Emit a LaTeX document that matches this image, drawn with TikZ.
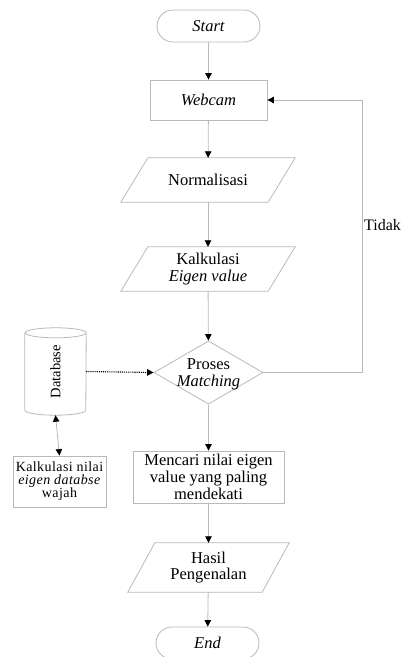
\documentclass[tikz,border=0pt]{standalone}
\usepackage{fontspec}
\setmainfont{Liberation Serif}
\usetikzlibrary{arrows.meta,shapes.geometric}
\newcommand\paraldraw[1]{\draw[line] ([xshift=27pt]#1.north west) -- (#1.north east) -- ([xshift=-27pt]#1.south east) -- (#1.south west) -- cycle;}
\begin{document}
\begin{tikzpicture}[x=1pt,y=1pt,
 line/.style={draw=gray!55, line width=0.8pt},
 arr/.style={line, -{Triangle[length=6.5pt,width=6.5pt,black]}},
 term/.style={line, rectangle, rounded corners=16pt, minimum width=103pt, minimum height=32pt, inner sep=0pt, font=\fontsize{16.5}{17}\selectfont\itshape},
 procbox/.style={line, rectangle, inner sep=0pt, align=center, font=\fontsize{16.5}{17}\selectfont},
 iobox/.style={rectangle, inner sep=0pt, minimum height=44pt, align=center, font=\fontsize{16.5}{16.5}\selectfont},
 decision/.style={line, diamond, inner sep=0pt, minimum width=109pt, minimum height=52pt, font=\fontsize{16.5}{17}\selectfont},
]
\useasboundingbox (0,0) rectangle (402,-657);

\node[term] (start) at (208.5,-26) {Start};
\node[procbox, minimum width=117pt, minimum height=40pt, font=\fontsize{16.5}{17}\selectfont\itshape] (webcam) at (208.5,-100) {Webcam};
\node[iobox, minimum width=174pt] (norm) at (208,-180) {Normalisasi};
\paraldraw{norm}
\node[iobox, minimum width=174pt] (kalk) at (208,-269) {Kalkulasi\\\textit{Eigen value}};
\paraldraw{kalk}
\node[decision] (match) at (208.5,-372.5) {\smash{\raisebox{-6pt}{\begin{tabular}{@{}c@{}}Proses\\\textit{Matching}\end{tabular}}}};
\node[procbox, minimum width=151pt, minimum height=52pt] (cari) at (208.5,-477) {Mencari nilai eigen\\value yang paling\\mendekati};
\node[iobox, minimum width=161pt, minimum height=49pt] (hasil) at (208.5,-567.5) {Hasil\\Pengenalan};
\paraldraw{hasil}
\node[term] (end) at (207.5,-643) {End};

\node[rectangle, inner sep=0pt, minimum width=61pt, minimum height=87pt, font=\fontsize{14.5}{14.5}\selectfont] (db) at (55.5,-371.5) {\rotatebox{90}{Database}};
\draw[line] ([yshift=-5pt]db.north west) -- ([yshift=5pt]db.south west)
  arc[start angle=180, end angle=360, x radius=30.5pt, y radius=5pt]
  -- ([yshift=-5pt]db.north east)
  arc[start angle=0, end angle=180, x radius=30.5pt, y radius=5pt]
  arc[start angle=180, end angle=360, x radius=30.5pt, y radius=5pt];
\node[procbox, minimum width=93pt, minimum height=51pt, font=\fontsize{14}{13}\selectfont\addfontfeatures{LetterSpace=3}] (kn) at (59.5,-481.5) {Kalkulasi nilai\\\textit{eigen databse}\\wajah};

\coordinate (loopx) at (362,0);
\node[anchor=west, inner sep=0pt, font=\fontsize{16}{16}\selectfont] (tidak) at (364,-225) {Tidak};

\draw[arr] (start) -- (webcam);
\draw[arr] (webcam) -- (norm);
\draw[arr] (norm) -- (kalk);
\draw[arr] (kalk) -- (match);
\draw[arr] (match.east) -- (match.east -| loopx) |- (webcam.east);
\draw[black, densely dotted, line width=1.1pt, -{Triangle[length=6.5pt,width=6.5pt,black]}] (db.east) -- (match.west);
\draw[line, {Triangle[length=6.5pt,width=6.5pt,black]}-{Triangle[length=6.5pt,width=6.5pt,black]}] (db.south) -- (kn.north);
\draw[arr] (match) -- (cari);
\draw[arr] (cari) -- (hasil);
\draw[arr] (hasil) -- (end);
\end{tikzpicture}
\end{document}
